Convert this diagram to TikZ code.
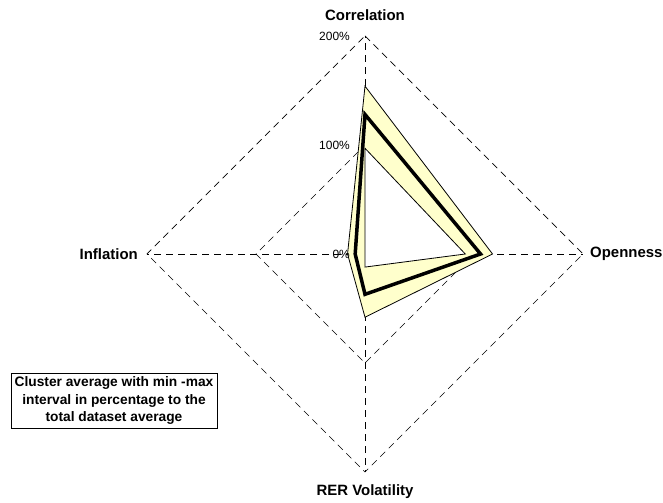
\documentclass[tikz,border=0pt]{standalone}
\usepackage{fontspec}
\setmainfont{Liberation Sans}
\usetikzlibrary{positioning}
\definecolor{bandyellow}{HTML}{FFFFCC}
\newcommand{\radarunit}{109}

\begin{document}
\begin{tikzpicture}[x=1bp, y=1bp,
    grid/.style = {line width=0.7bp, dash pattern=on 7bp off 5bp},
    axislabel/.style = {inner sep=0pt, font=\bfseries\fontsize{15}{18}\selectfont},
    tick/.style = {inner sep=0pt, anchor=east, font=\fontsize{12}{14}\selectfont},
    band/.style = {draw, line width=0.8bp, line join=miter},
    mean/.style = {draw, line width=3.5bp, line join=miter}]
    \useasboundingbox (-365,-249) rectangle (298,254);

    % axis ends
    \coordinate (O) at (0,0);
    \coordinate (corr) at (90:2*\radarunit);
    \coordinate (open) at (0:2*\radarunit);
    \coordinate (rer) at (270:2*\radarunit);
    \coordinate (infl) at (180:2*\radarunit);

    % grid
    \draw[grid] (corr) -- (open) -- (rer) -- (infl) -- cycle;
    \draw[grid] (90:\radarunit) -- (0:\radarunit) -- (270:\radarunit) -- (180:\radarunit) -- cycle;
    \foreach \a in {corr, open, rer, infl}
        \draw[grid] (O) -- (\a);

    % max, min and cluster average
    \path[band, fill=bandyellow] (90:1.54*\radarunit) -- (0:1.17*\radarunit)
        -- (270:0.58*\radarunit) -- (180:0.16*\radarunit) -- cycle;
    \path[band, fill=white] (90:0.97*\radarunit) -- (0:0.92*\radarunit)
        -- (270:0.12*\radarunit) -- (O) -- cycle;
    \path[mean] (90:1.28*\radarunit) -- (0:1.06*\radarunit)
        -- (270:0.37*\radarunit) -- (180:0.09*\radarunit) -- cycle;

    % scale
    \foreach \v/\t in {0/0, 1/100, 2/200}
        \node[tick] (tick\t) at (-15, \v*\radarunit) {\t\%};

    \node[axislabel] (corrlabel) [above=15.5bp of corr] {Correlation};
    \node[axislabel] (openlabel) [right=7bp of open] {Openness};
    \node[axislabel] (rerlabel) [below=12.5bp of rer] {RER Volatility};
    \node[axislabel] (infllabel) [left=9bp of infl] {Inflation};

    \node[draw, line width=0.8bp, align=center, inner sep=0pt,
          minimum width=206bp, minimum height=55bp,
          font=\bfseries\fontsize{13.8}{17.5}\selectfont] (legend) at (-251,-146.5)
          {Cluster average with min -max\\interval in percentage to the\\total dataset average};
\end{tikzpicture}
\end{document}
